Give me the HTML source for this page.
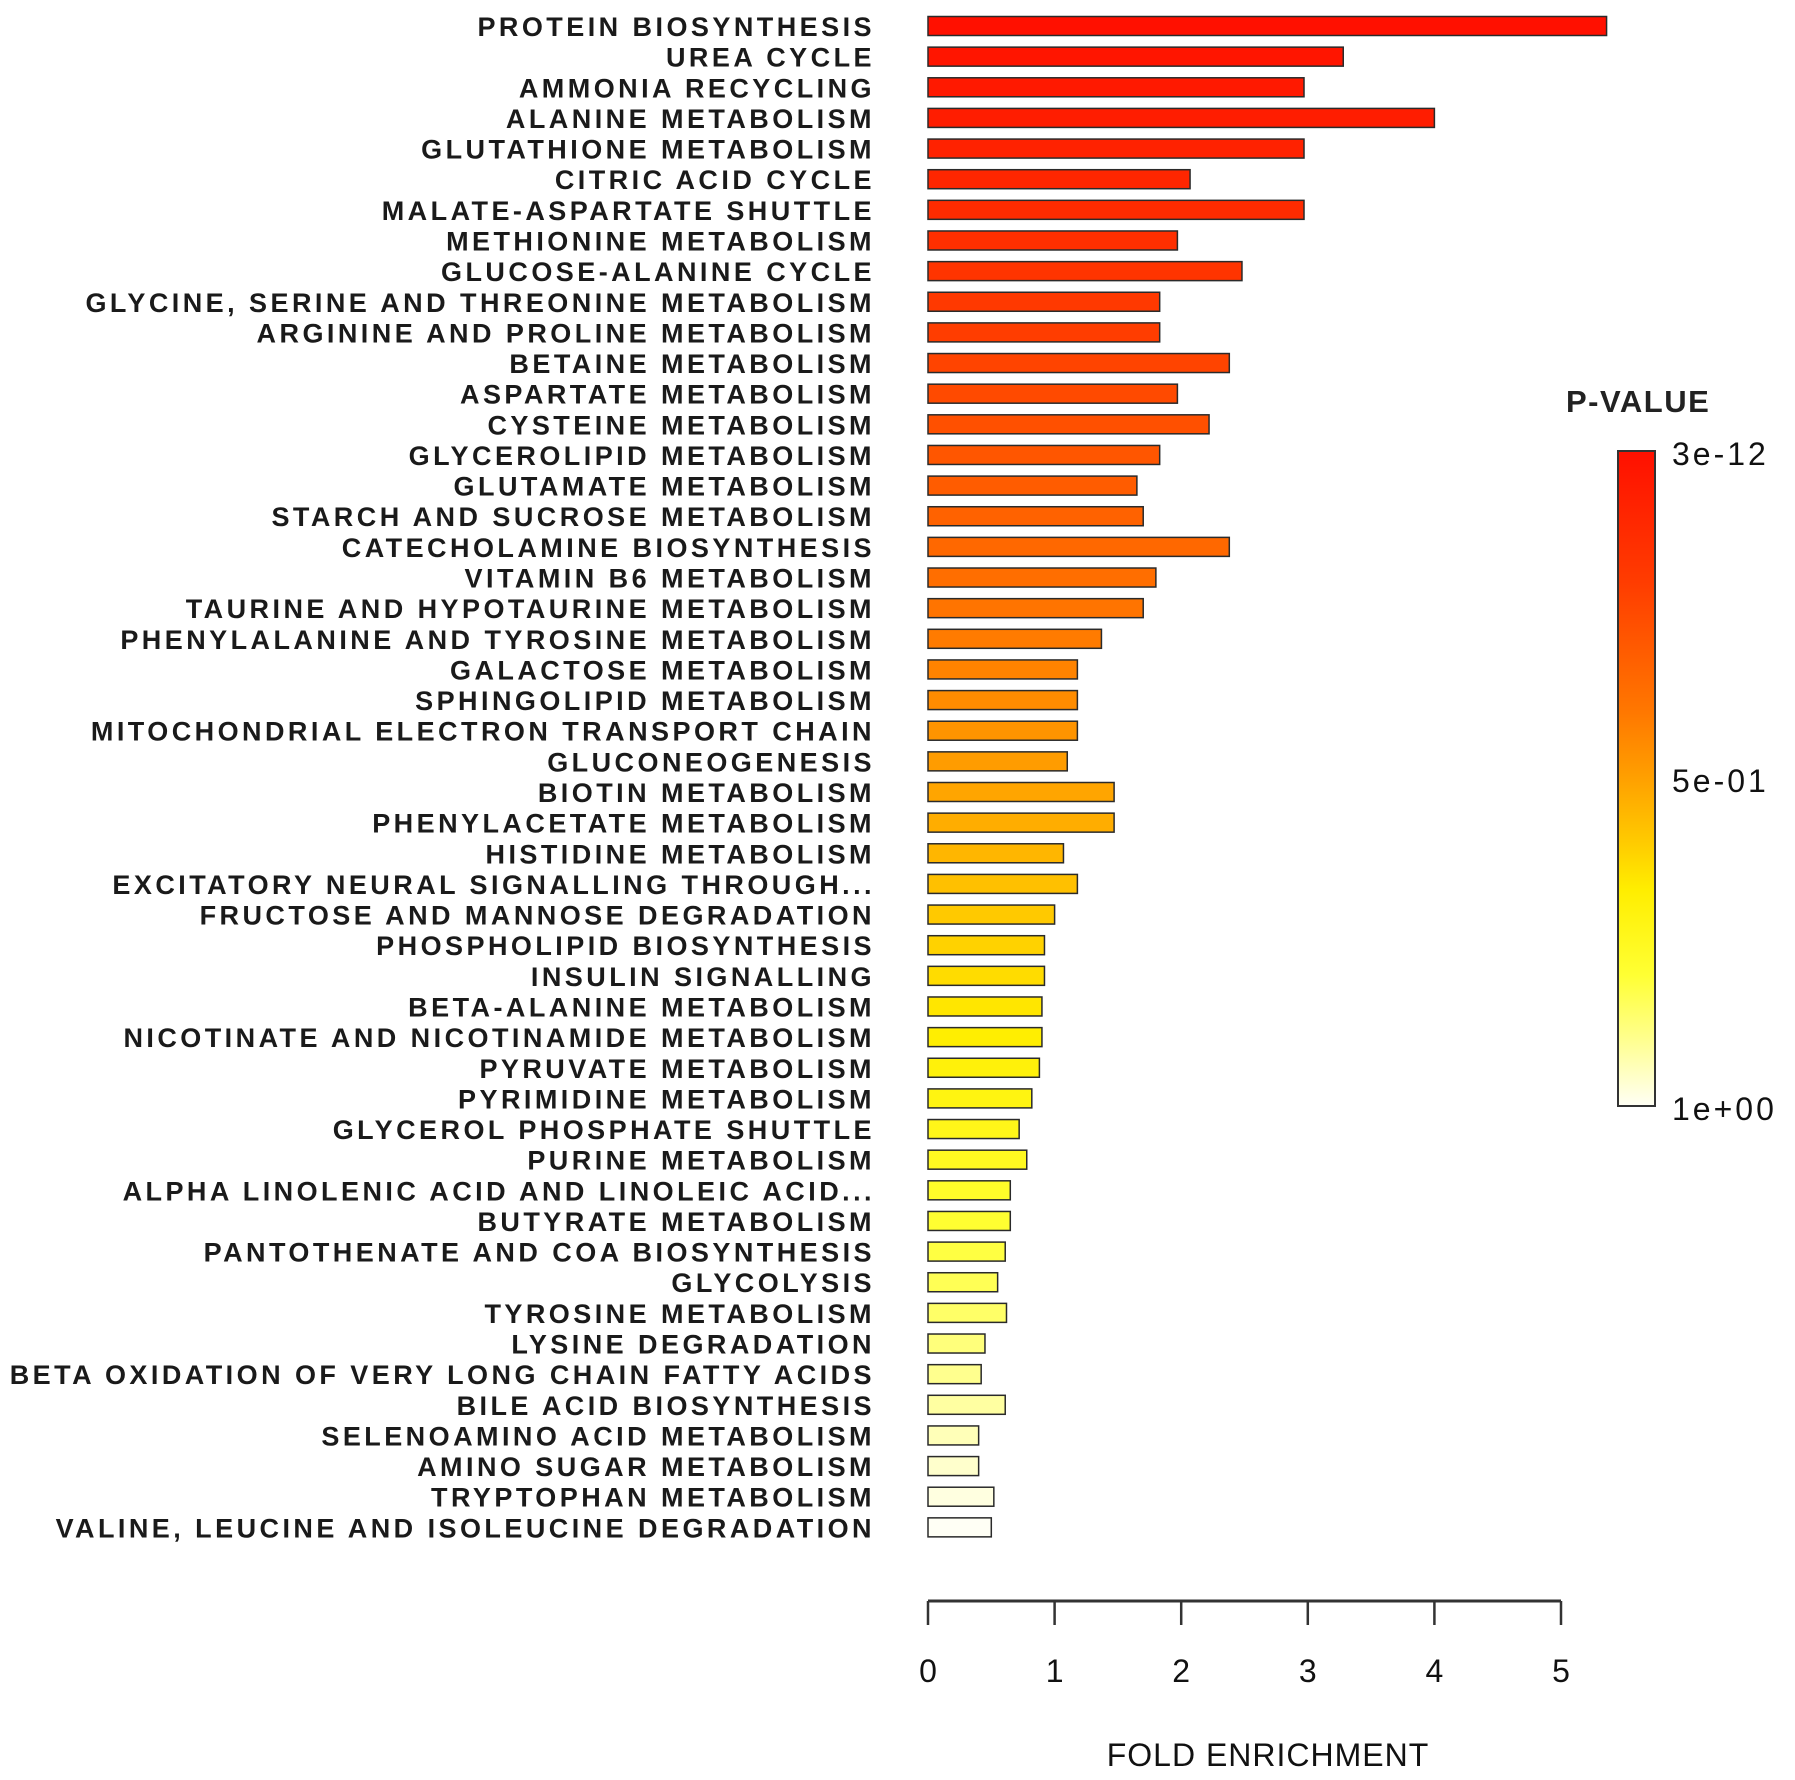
<!DOCTYPE html>
<html><head><meta charset="utf-8"><style>
html,body{margin:0;padding:0;background:#fff;}
svg{display:block;font-family:"Liberation Sans",Arial,sans-serif;}
</style></head><body>
<svg id="chart" width="1795" height="1780" viewBox="0 0 1795 1780">
<defs>
<linearGradient id="pgrad" x1="0" y1="1" x2="0" y2="0">
<stop offset="0" stop-color="#fffff5"/><stop offset="0.1" stop-color="#ffff90"/><stop offset="0.2" stop-color="#ffff33"/><stop offset="0.33" stop-color="#ffee00"/><stop offset="0.4" stop-color="#ffcc00"/><stop offset="0.5" stop-color="#ffa000"/><stop offset="0.6" stop-color="#ff7800"/><stop offset="0.8" stop-color="#ff3c00"/><stop offset="1" stop-color="#ff1000"/>
</linearGradient>
</defs>
<g id="bars"></g>
<g id="labels"></g>
<g id="xaxis"></g>
<text x="1268" y="1766" text-anchor="middle" font-size="32" fill="#111" letter-spacing="1">FOLD ENRICHMENT</text>
<g>
<text x="1566" y="412" font-size="31" font-weight="bold" fill="#222" letter-spacing="1.5">P-VALUE</text>
<rect x="1618" y="451" width="37" height="655" fill="url(#pgrad)" stroke="#333" stroke-width="2"/>
<text x="1672" y="465" font-size="32" fill="#111" letter-spacing="3">3e-12</text>
<text x="1672" y="792" font-size="32" fill="#111" letter-spacing="3">5e-01</text>
<text x="1672" y="1120" font-size="32" fill="#111" letter-spacing="3">1e+00</text>
</g>
</svg>
<script>
const categories = ["PROTEIN BIOSYNTHESIS","UREA CYCLE","AMMONIA RECYCLING","ALANINE METABOLISM","GLUTATHIONE METABOLISM","CITRIC ACID CYCLE","MALATE-ASPARTATE SHUTTLE","METHIONINE METABOLISM","GLUCOSE-ALANINE CYCLE","GLYCINE, SERINE AND THREONINE METABOLISM","ARGININE AND PROLINE METABOLISM","BETAINE METABOLISM","ASPARTATE METABOLISM","CYSTEINE METABOLISM","GLYCEROLIPID METABOLISM","GLUTAMATE METABOLISM","STARCH AND SUCROSE METABOLISM","CATECHOLAMINE BIOSYNTHESIS","VITAMIN B6 METABOLISM","TAURINE AND HYPOTAURINE METABOLISM","PHENYLALANINE AND TYROSINE METABOLISM","GALACTOSE METABOLISM","SPHINGOLIPID METABOLISM","MITOCHONDRIAL ELECTRON TRANSPORT CHAIN","GLUCONEOGENESIS","BIOTIN METABOLISM","PHENYLACETATE METABOLISM","HISTIDINE METABOLISM","EXCITATORY NEURAL SIGNALLING THROUGH...","FRUCTOSE AND MANNOSE DEGRADATION","PHOSPHOLIPID BIOSYNTHESIS","INSULIN SIGNALLING","BETA-ALANINE METABOLISM","NICOTINATE AND NICOTINAMIDE METABOLISM","PYRUVATE METABOLISM","PYRIMIDINE METABOLISM","GLYCEROL PHOSPHATE SHUTTLE","PURINE METABOLISM","ALPHA LINOLENIC ACID AND LINOLEIC ACID...","BUTYRATE METABOLISM","PANTOTHENATE AND COA BIOSYNTHESIS","GLYCOLYSIS","TYROSINE METABOLISM","LYSINE DEGRADATION","BETA OXIDATION OF VERY LONG CHAIN FATTY ACIDS","BILE ACID BIOSYNTHESIS","SELENOAMINO ACID METABOLISM","AMINO SUGAR METABOLISM","TRYPTOPHAN METABOLISM","VALINE, LEUCINE AND ISOLEUCINE DEGRADATION"];
const foldEnrichment = [5.36,3.28,2.97,4.0,2.97,2.07,2.97,1.97,2.48,1.83,1.83,2.38,1.97,2.22,1.83,1.65,1.70,2.38,1.80,1.70,1.37,1.18,1.18,1.18,1.10,1.47,1.47,1.07,1.18,1.0,0.92,0.92,0.90,0.90,0.88,0.82,0.72,0.78,0.65,0.65,0.61,0.55,0.62,0.45,0.42,0.61,0.40,0.40,0.52,0.50];
const pValues = [3e-12,5.2e-12,8.9e-12,1.5e-11,2.6e-11,4.5e-11,7.8e-11,1.3e-10,2.3e-10,4e-10,6.8e-10,1.2e-9,2e-9,3.4e-9,5.9e-9,1e-8,1.7e-8,3e-8,5.1e-8,8.8e-8,1.5e-7,2.6e-7,4.5e-7,7.7e-7,1.3e-6,2.3e-6,3.9e-6,6.7e-6,1.2e-5,2e-5,3.4e-5,5.8e-5,1e-4,1.7e-4,3e-4,5.1e-4,8.8e-4,1.5e-3,2.6e-3,4.4e-3,7.6e-3,1.3e-2,2.2e-2,3.9e-2,6.7e-2,0.11,0.2,0.34,0.58,1.0];
const xTicks = [0,1,2,3,4,5];

const NS = "http://www.w3.org/2000/svg";
const X0 = 928, UNIT = 126.6, Y0 = 26, STEP = 30.64, BH = 19;
function xScale(v){ return X0 + v*UNIT; }
function yScale(i){ return Y0 + i*STEP; }
const stops = [[0,[255,255,245]],[0.1,[255,255,144]],[0.2,[255,255,51]],[0.33,[255,238,0]],[0.4,[255,204,0]],[0.5,[255,160,0]],[0.6,[255,120,0]],[0.8,[255,60,0]],[1,[255,16,0]]];
function colorScale(p){
  let t = Math.log10(p)/Math.log10(3e-12);
  t = Math.max(0, Math.min(1, t));
  for (let k=1;k<stops.length;k++){
    if (t <= stops[k][0]){
      const a=stops[k-1], b=stops[k], f=(t-a[0])/(b[0]-a[0]);
      const c=a[1].map((v,j)=>Math.round(v+(b[1][j]-v)*f));
      return "rgb("+c.join(",")+")";
    }
  }
  return "rgb(255,16,0)";
}
const barsG = document.getElementById("bars"), labelsG = document.getElementById("labels"), axG = document.getElementById("xaxis");
categories.forEach((c,i)=>{
  const r = document.createElementNS(NS,"rect");
  r.setAttribute("x", xScale(0));
  r.setAttribute("y", yScale(i)-BH/2);
  r.setAttribute("width", xScale(foldEnrichment[i])-xScale(0));
  r.setAttribute("height", BH);
  r.setAttribute("fill", colorScale(pValues[i]));
  r.setAttribute("stroke", "#2a2a2a");
  r.setAttribute("stroke-width", "1.5");
  
  
  barsG.appendChild(r);
  const t = document.createElementNS(NS,"text");
  t.setAttribute("x", 875);
  t.setAttribute("y", yScale(i)+10);
  t.setAttribute("text-anchor", "end");
  t.setAttribute("font-size", "27");
  t.setAttribute("font-weight", "bold");
  t.setAttribute("letter-spacing", "3.45");
  t.setAttribute("fill", "#1a1a1a");
  t.textContent = c;
  
  
  labelsG.appendChild(t);
});
const AY = 1601;
const line = document.createElementNS(NS,"line");
line.setAttribute("x1", xScale(xTicks[0])); line.setAttribute("x2", xScale(xTicks[xTicks.length-1]));
line.setAttribute("y1", AY); line.setAttribute("y2", AY);
line.setAttribute("stroke", "#333"); line.setAttribute("stroke-width", "3");


axG.appendChild(line);
xTicks.forEach(v=>{
  const tk = document.createElementNS(NS,"line");
  tk.setAttribute("x1", xScale(v)); tk.setAttribute("x2", xScale(v));
  tk.setAttribute("y1", AY); tk.setAttribute("y2", AY+24);
  tk.setAttribute("stroke", "#333"); tk.setAttribute("stroke-width", "2.5");
  
  
  axG.appendChild(tk);
  const lb = document.createElementNS(NS,"text");
  lb.setAttribute("x", xScale(v)); lb.setAttribute("y", 1682);
  lb.setAttribute("text-anchor", "middle"); lb.setAttribute("font-size", "32"); lb.setAttribute("fill", "#111");
  lb.textContent = v;
  
  
  axG.appendChild(lb);
});
</script>
</body></html>
